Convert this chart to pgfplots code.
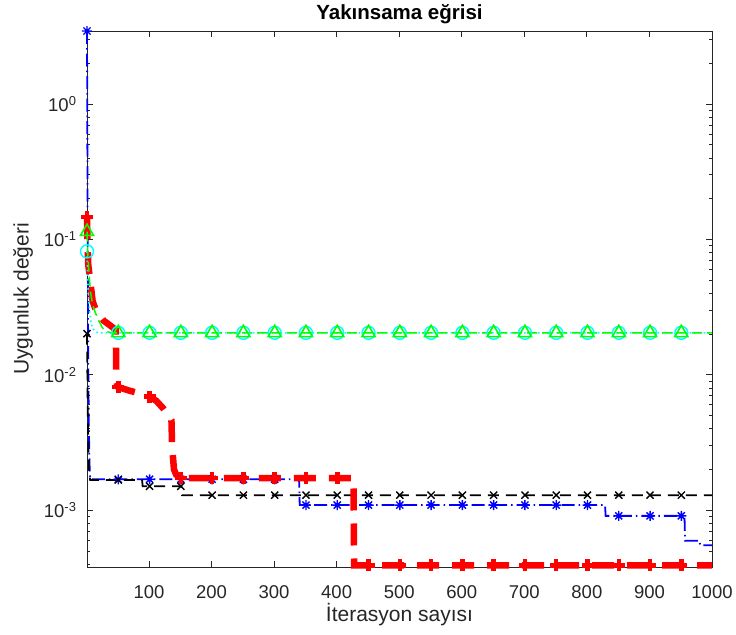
\documentclass[border=0pt]{standalone}
\usepackage{fontspec}
\setmainfont{Liberation Sans}
\usepackage{pgfplots}
\pgfplotsset{compat=1.18}
\definecolor{axgray}{gray}{0.15}
\definecolor{mblue}{rgb}{0,0,1}
\definecolor{mcyan}{rgb}{0,1,1}
\definecolor{mgreen}{rgb}{0,1,0}
\definecolor{mred}{rgb}{1,0,0}
\pgfdeclareplotmark{mstar}{%
 \pgfpathmoveto{\pgfqpoint{-\pgfplotmarksize}{0pt}}\pgfpathlineto{\pgfqpoint{\pgfplotmarksize}{0pt}}%
 \pgfpathmoveto{\pgfqpoint{0pt}{-\pgfplotmarksize}}\pgfpathlineto{\pgfqpoint{0pt}{\pgfplotmarksize}}%
 \pgfpathmoveto{\pgfqpoint{-0.7071\pgfplotmarksize}{-0.7071\pgfplotmarksize}}\pgfpathlineto{\pgfqpoint{0.7071\pgfplotmarksize}{0.7071\pgfplotmarksize}}%
 \pgfpathmoveto{\pgfqpoint{-0.7071\pgfplotmarksize}{0.7071\pgfplotmarksize}}\pgfpathlineto{\pgfqpoint{0.7071\pgfplotmarksize}{-0.7071\pgfplotmarksize}}%
 \pgfusepathqstroke}
\begin{document}
\begin{tikzpicture}
\begin{axis}[
 scale only axis, width=625pt, height=536pt,
 ymode=log, xmin=1, xmax=1000, ymin=3.8e-4, ymax=3.46,
 xtick={100,200,300,400,500,600,700,800,900,1000},
 xticklabels={100,200,300,400,500,600,700,800,900,1000},
 ytick={1e-3,1e-2,1e-1,1},
 yticklabels={10\textsuperscript{-3},10\textsuperscript{-2},10\textsuperscript{-1},10\textsuperscript{0}},
 minor ytick={4e-4,5e-4,6e-4,7e-4,8e-4,9e-4,2e-3,3e-3,4e-3,5e-3,6e-3,7e-3,8e-3,9e-3,2e-2,3e-2,4e-2,5e-2,6e-2,7e-2,8e-2,9e-2,2e-1,3e-1,4e-1,5e-1,6e-1,7e-1,8e-1,9e-1,2,3},
 tick align=inside, major tick length=6pt, minor tick length=3.5pt,
 axis line style={axgray, line width=0.8pt},
 every tick/.style={axgray, line width=0.8pt},
 every minor tick/.style={axgray, line width=0.6pt},
 tick label style={font=\fontsize{18.5}{20}\selectfont, text=axgray},
 xticklabel style={yshift=-15pt},
 yticklabel style={xshift=-7pt},
 title={Yakınsama eğrisi},
 title style={font=\fontsize{20.5}{24}\selectfont\bfseries, text=black, yshift=-2pt},
 xlabel={İterasyon sayısı}, ylabel={Uygunluk değeri},
 xlabel style={yshift=2pt},
 ylabel style={yshift=4pt},
 label style={font=\fontsize{21}{24}\selectfont, text=axgray},
 clip=false,
]
% blue
\addplot[mblue, line width=1.8pt, dash pattern=on 13pt off 4pt on 1.5pt off 4pt] coordinates {
(1,3.46)(2,0.15)(3,0.012)(4,0.004)(5,0.0022)(6,1.69e-3)(340,1.69e-3)(341,1.09e-3)(829,1.09e-3)(830,9.07e-4)(956,9.07e-4)(957,5.95e-4)(980,5.95e-4)(981,5.5e-4)(1000,5.5e-4)};
\addplot[only marks, mblue, mark=mstar, mark size=5pt, line width=1.4pt] coordinates {
(1,3.46)(51,1.69e-3)(101,1.69e-3)(151,1.69e-3)(201,1.69e-3)(251,1.69e-3)(301,1.69e-3)(351,1.09e-3)(401,1.09e-3)(451,1.09e-3)(501,1.09e-3)(551,1.09e-3)(601,1.09e-3)(651,1.09e-3)(701,1.09e-3)(751,1.09e-3)(801,1.09e-3)(851,9.07e-4)(901,9.07e-4)(951,9.07e-4)};
% black
\addplot[black, line width=1.8pt, dash pattern=on 11pt off 7pt] coordinates {
(1,0.0201)(2,0.007)(3,0.003)(4,0.002)(6,1.67e-3)(89,1.67e-3)(90,1.5e-3)(152,1.5e-3)(153,1.29e-3)(1000,1.29e-3)};
\addplot[only marks, black, mark=x, mark size=5pt, line width=1.4pt] coordinates {
(1,0.0201)(51,1.67e-3)(101,1.5e-3)(151,1.5e-3)(201,1.29e-3)(251,1.29e-3)(301,1.29e-3)(351,1.29e-3)(401,1.29e-3)(451,1.29e-3)(501,1.29e-3)(551,1.29e-3)(601,1.29e-3)(651,1.29e-3)(701,1.29e-3)(751,1.29e-3)(801,1.29e-3)(851,1.29e-3)(901,1.29e-3)(951,1.29e-3)};
% red
\addplot[mred, line width=6.5pt, dash pattern=on 22pt off 13pt] coordinates {
(1,0.146)(2,0.09)(3,0.065)(6,0.05)(8,0.042)(10,0.035)(14,0.031)(20,0.028)(28,0.025)(36,0.0235)(44,0.022)(47,0.0215)(48,0.0088)(51,0.0081)(70,0.0076)(90,0.0072)(101,0.0069)(112,0.0064)(122,0.0057)(132,0.0049)(136,0.0046)(137,0.003)(140,0.002)(146,1.72e-3)(427,1.72e-3)(428,3.9e-4)(1000,3.9e-4)};
\addplot[only marks, mred, mark=+, mark size=6pt, line width=4.5pt] coordinates {
(1,0.146)(51,0.0081)(101,0.0069)(151,1.72e-3)(201,1.72e-3)(251,1.72e-3)(301,1.72e-3)(351,1.72e-3)(401,1.72e-3)(451,3.9e-4)(501,3.9e-4)(551,3.9e-4)(601,3.9e-4)(651,3.9e-4)(701,3.9e-4)(751,3.9e-4)(801,3.9e-4)(851,3.9e-4)(901,3.9e-4)(951,3.9e-4)};
% cyan
\addplot[mcyan, line width=1.6pt, dash pattern=on 1.6pt off 3pt] coordinates {
(1,0.0815)(2,0.055)(3,0.04)(5,0.03)(7,0.025)(10,0.022)(15,0.0207)(20,0.0204)(1000,0.0204)};
\addplot[only marks, mcyan, mark=o, mark size=6.5pt, line width=1.4pt] coordinates {
(1,0.0815)(51,0.0204)(101,0.0204)(151,0.0204)(201,0.0204)(251,0.0204)(301,0.0204)(351,0.0204)(401,0.0204)(451,0.0204)(501,0.0204)(551,0.0204)(601,0.0204)(651,0.0204)(701,0.0204)(751,0.0204)(801,0.0204)(851,0.0204)(901,0.0204)(951,0.0204)};
% green
\addplot[mgreen, line width=1.5pt, dash pattern=on 10pt off 5pt] coordinates {
(1,0.114)(2,0.085)(3,0.068)(5,0.05)(7,0.04)(10,0.033)(14,0.029)(20,0.025)(25,0.0225)(30,0.021)(40,0.0204)(1000,0.0204)};
\addplot[only marks, mgreen, mark=triangle, mark size=7.5pt, line width=1.6pt] coordinates {
(1,0.114)(51,0.0204)(101,0.0204)(151,0.0204)(201,0.0204)(251,0.0204)(301,0.0204)(351,0.0204)(401,0.0204)(451,0.0204)(501,0.0204)(551,0.0204)(601,0.0204)(651,0.0204)(701,0.0204)(751,0.0204)(801,0.0204)(851,0.0204)(901,0.0204)(951,0.0204)};
\end{axis}
\pgfresetboundingbox
\path[use as bounding box] ([shift={(-87pt,-67pt)}]current axis.south west) rectangle ([shift={(24pt,31pt)}]current axis.north east);
\end{tikzpicture}
\end{document}
